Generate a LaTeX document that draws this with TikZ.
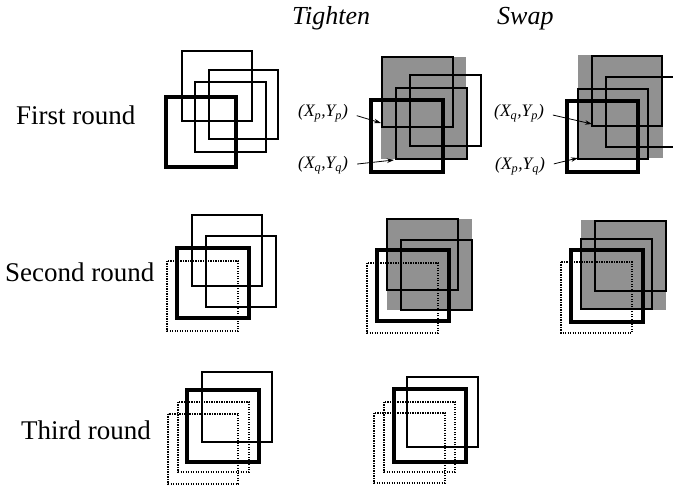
\documentclass[tikz,border=0pt]{standalone}
\usepackage{fontspec}
\setmainfont{Liberation Serif}
\usetikzlibrary{arrows.meta}
\definecolor{boxgray}{RGB}{145,145,145}
\tikzset{
  plain/.style={draw=black, line width=1.2pt},
  heavy/.style={draw=black, line width=3.6pt},
  dots/.style={draw=black, line width=1.3pt, dash pattern=on 1.2pt off 1.3pt},
  shade/.style={fill=boxgray, draw=none},
  rowlabel/.style={anchor=base west, inner sep=0pt, font=\fontsize{27}{31}\selectfont},
  headlabel/.style={anchor=base west, inner sep=0pt, font=\fontsize{26}{30}\selectfont\itshape},
  ptlabel/.style={anchor=base west, inner sep=0pt, font=\fontsize{17.5}{20}\selectfont\itshape},
  pointer/.style={draw=black, line width=0.8pt, -{Stealth[length=7pt,width=4.5pt]}, shorten <=9pt}
}
\begin{document}
\begin{tikzpicture}[x=1pt, y=-1pt]
\clip (0,0) rectangle (673,494);
\fill[white] (0,0) rectangle (673,494);

% column and row headings
\node[headlabel] (tighten) at (292,25) {Tighten};
\node[headlabel] (swap) at (497,25) {Swap};
\node[rowlabel] (first) at (16,125) {First round};
\node[rowlabel] (second) at (5,282) {Second round};
\node[rowlabel] (third) at (21,440) {Third round};

% ---------- first round ----------
\draw[plain] (182,51) rectangle (252,121);
\draw[plain] (209,70) rectangle (278,139);
\draw[plain] (195,82) rectangle (266,152);
\draw[heavy] (166,97) rectangle (236,167);

% tighten
\fill[shade] (381,57) rectangle (466,159);
\draw[plain] (382,57) rectangle (453,127);
\draw[plain] (410,75) rectangle (481,146);
\draw[plain] (396,88) rectangle (467,159);
\draw[heavy] (371,100) rectangle (443,172);
\coordinate (tp) at (381,123);
\coordinate (tq) at (394,160);
\node[ptlabel] (lp) at (298,116.5) {(X\textsubscript{p},Y\textsubscript{p})};
\node[ptlabel] (lq) at (298,168.5) {(X\textsubscript{q},Y\textsubscript{q})};
\draw[pointer] (lp.east) -- (tp);
\draw[pointer] (lq.east) -- (tq);

% swap
\fill[shade] (578,55) rectangle (663,158);
\draw[plain] (592,56) rectangle (662,126);
\draw[plain] (606,77) rectangle (678,147);
\draw[plain] (578,89) rectangle (648,159);
\draw[heavy] (567,101) rectangle (638,172);
\coordinate (sp) at (592,124);
\coordinate (sq) at (578,158);
\node[ptlabel] (lqp) at (494,116.5) {(X\textsubscript{q},Y\textsubscript{p})};
\node[ptlabel] (lpq) at (495,169.5) {(X\textsubscript{p},Y\textsubscript{q})};
\draw[pointer] (lqp.east) -- (sp);
\draw[pointer] (lpq.east) -- (sq);

% ---------- second round ----------
\draw[plain] (192,215) rectangle (262,286);
\draw[plain] (206,236) rectangle (276,307);
\draw[heavy] (177,248) rectangle (249,318);
\draw[dots] (167,261) rectangle (238,331);

% tighten
\fill[shade] (387,219) rectangle (472,310);
\draw[plain] (387,219) rectangle (458,290);
\draw[plain] (401,240) rectangle (472,310);
\draw[heavy] (377,250) rectangle (449,321);
\draw[dots] (367,263) rectangle (438,333);

% swap
\fill[shade] (581,220) rectangle (666,310);
\draw[plain] (595,221) rectangle (666,291);
\draw[plain] (581,239) rectangle (652,309);
\draw[heavy] (571,250) rectangle (643,322);
\draw[dots] (561,262) rectangle (632,333);

% ---------- third round ----------
\draw[plain] (202,372) rectangle (272,442);
\draw[heavy] (187,390) rectangle (259,462);
\draw[dots] (178,402) rectangle (249,472);
\draw[dots] (168,414) rectangle (238,484);

% tighten
\draw[plain] (407,377) rectangle (478,447);
\draw[heavy] (394,389) rectangle (466,462);
\draw[dots] (384,402) rectangle (455,472);
\draw[dots] (374,413) rectangle (445,483);
\end{tikzpicture}
\end{document}
